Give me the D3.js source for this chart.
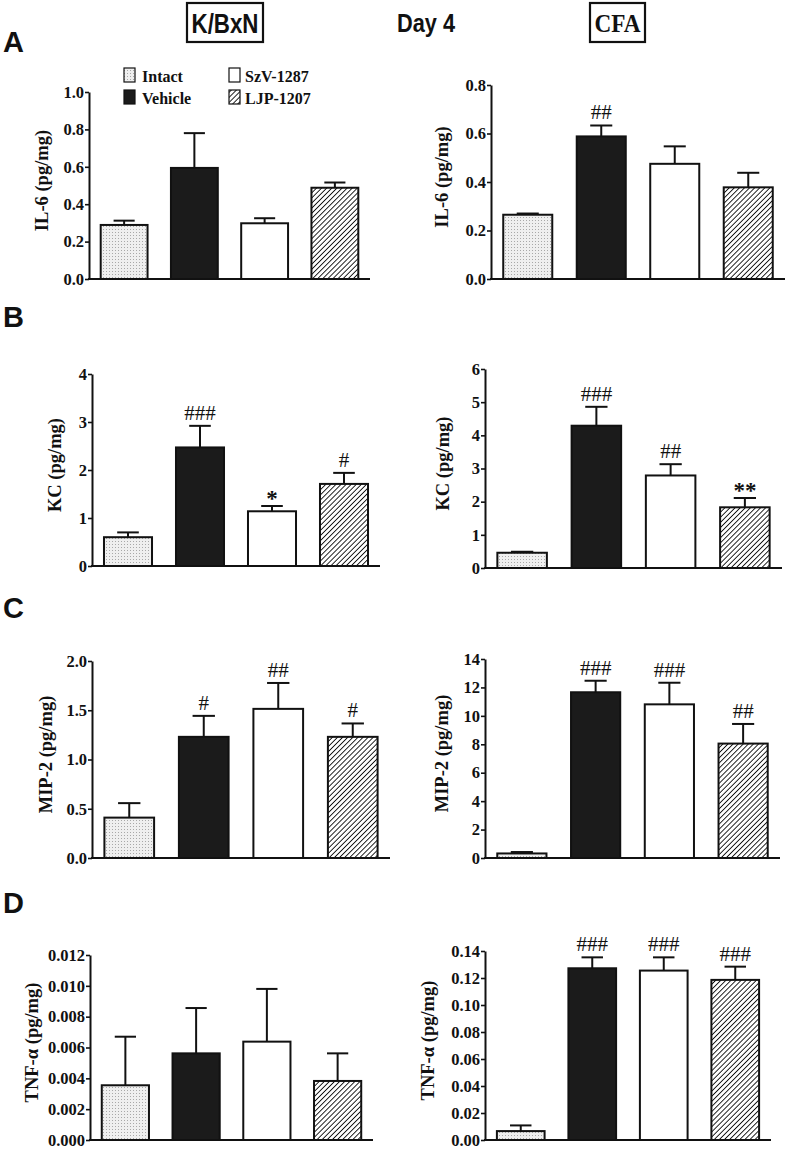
<!DOCTYPE html>
<html><head><meta charset="utf-8">
<script src="https://cdn.jsdelivr.net/npm/d3@7"></script>
<style>body{margin:0;background:#fff}</style></head>
<body><svg id="c" width="787" height="1150"></svg>
<script>
// ---------- DATA ----------
const groups = ["Intact", "Vehicle", "SzV-1287", "LJP-1207"];

const il6KbxnMean = [0.289, 0.594, 0.298, 0.488];
const il6KbxnSem  = [0.023, 0.186, 0.027, 0.028];
const il6KbxnMarks = ["", "", "", ""];
const il6KbxnTicks = [0, 0.2, 0.4, 0.6, 0.8, 1.0];

const il6CfaMean = [0.265, 0.588, 0.475, 0.378];
const il6CfaSem  = [0.005, 0.045, 0.072, 0.060];
const il6CfaMarks = ["", "##", "", ""];
const il6CfaTicks = [0, 0.2, 0.4, 0.6, 0.8];

const kcKbxnMean = [0.60, 2.47, 1.14, 1.71];
const kcKbxnSem  = [0.10, 0.45, 0.11, 0.23];
const kcKbxnMarks = ["", "###", "*", "#"];
const kcKbxnTicks = [0, 1, 2, 3, 4];

const kcCfaMean = [0.46, 4.29, 2.79, 1.83];
const kcCfaSem  = [0.03, 0.57, 0.34, 0.28];
const kcCfaMarks = ["", "###", "##", "**"];
const kcCfaTicks = [0, 1, 2, 3, 4, 5, 6];

const mip2KbxnMean = [0.41, 1.23, 1.514, 1.23];
const mip2KbxnSem  = [0.147, 0.213, 0.263, 0.136];
const mip2KbxnMarks = ["", "#", "##", "#"];
const mip2KbxnTicks = [0, 0.5, 1.0, 1.5, 2.0];

const mip2CfaMean = [0.32, 11.66, 10.81, 8.05];
const mip2CfaSem  = [0.10, 0.81, 1.52, 1.38];
const mip2CfaMarks = ["", "###", "###", "##"];
const mip2CfaTicks = [0, 2, 4, 6, 8, 10, 12, 14];

const tnfKbxnMean = [0.00355, 0.00562, 0.00638, 0.00383];
const tnfKbxnSem  = [0.00315, 0.00294, 0.00342, 0.00179];
const tnfKbxnMarks = ["", "", "", ""];
const tnfKbxnTicks = [0, 0.002, 0.004, 0.006, 0.008, 0.010, 0.012];

const tnfCfaMean = [0.0066, 0.1272, 0.1255, 0.1186];
const tnfCfaSem  = [0.0042, 0.0081, 0.0098, 0.0098];
const tnfCfaMarks = ["", "###", "###", "###"];
const tnfCfaTicks = [0, 0.02, 0.04, 0.06, 0.08, 0.10, 0.12, 0.14];

const panelLetters = ["A", "B", "C", "D"];
const headerLeft = "K/BxN", headerMid = "Day 4", headerRight = "CFA";

// ---------- LAYOUT ----------
const panels = [
  {mean: il6KbxnMean, sem: il6KbxnSem, marks: il6KbxnMarks, ticks: il6KbxnTicks, fmt: ".1f", label: "IL-6 (pg/mg)", x0: 89, x1: 370, yTop: 92, yBase: 279, off: 41},
  {mean: il6CfaMean, sem: il6CfaSem, marks: il6CfaMarks, ticks: il6CfaTicks, fmt: ".1f", label: "IL-6 (pg/mg)", x0: 491, x1: 785, yTop: 85, yBase: 279, off: 43},
  {mean: kcKbxnMean, sem: kcKbxnSem, marks: kcKbxnMarks, ticks: kcKbxnTicks, fmt: "d", label: "KC (pg/mg)", x0: 92, x1: 380, yTop: 374, yBase: 566, off: 31},
  {mean: kcCfaMean, sem: kcCfaSem, marks: kcCfaMarks, ticks: kcCfaTicks, fmt: "d", label: "KC (pg/mg)", x0: 485, x1: 782, yTop: 369, yBase: 568, off: 36},
  {mean: mip2KbxnMean, sem: mip2KbxnSem, marks: mip2KbxnMarks, ticks: mip2KbxnTicks, fmt: ".1f", label: "MIP-2 (pg/mg)", x0: 92, x1: 390, yTop: 661, yBase: 858, off: 40},
  {mean: mip2CfaMean, sem: mip2CfaSem, marks: mip2CfaMarks, ticks: mip2CfaTicks, fmt: "d", label: "MIP-2 (pg/mg)", x0: 485, x1: 780, yTop: 659, yBase: 858, off: 37},
  {mean: tnfKbxnMean, sem: tnfKbxnSem, marks: tnfKbxnMarks, ticks: tnfKbxnTicks, fmt: ".3f", label: "TNF-α (pg/mg)", x0: 90, x1: 373, yTop: 955, yBase: 1140, off: 52},
  {mean: tnfCfaMean, sem: tnfCfaSem, marks: tnfCfaMarks, ticks: tnfCfaTicks, fmt: ".2f", label: "TNF-α (pg/mg)", x0: 485, x1: 771, yTop: 951, yBase: 1140, off: 51}
];
const letterY = [52, 327, 618, 913];

const svg = d3.select("#c");
const defs = svg.append("defs");
// stipple
const st = defs.append("pattern").attr("id", "stip").attr("patternUnits", "userSpaceOnUse").attr("width", 3).attr("height", 3);
st.append("rect").attr("width", 3).attr("height", 3).attr("fill", "#efefef");
st.append("rect").attr("x", 1).attr("y", 1).attr("width", 1).attr("height", 1).attr("fill", "#a8a8a8");
// hatch
const ht = defs.append("pattern").attr("id", "hatch").attr("patternUnits", "userSpaceOnUse").attr("width", 3.6).attr("height", 3.6).attr("patternTransform", "rotate(45)");
ht.append("rect").attr("width", 3.6).attr("height", 3.6).attr("fill", "#fff");
ht.append("line").attr("x1", 0).attr("y1", 0).attr("x2", 0).attr("y2", 3.6).attr("stroke", "#000").attr("stroke-width", 1.7);

const fills = ["url(#stip)", "#1b1b1b", "#ffffff", "url(#hatch)"];
const SERIF = "'Liberation Serif','Times New Roman',serif";
const SANS = "'Liberation Sans',Arial,sans-serif";

// header
svg.append("rect").attr("x", 187).attr("y", 3).attr("width", 76).attr("height", 39).attr("fill", "none").attr("stroke", "#111").attr("stroke-width", 2.2);
svg.append("text").attr("x", 225).attr("y", 33).attr("text-anchor", "middle").attr("font-family", SANS).attr("font-weight", "bold").attr("font-size", 27)
  .attr("textLength", 67).attr("lengthAdjust", "spacingAndGlyphs").attr("fill", "#111").text(headerLeft);
svg.append("text").attr("x", 426).attr("y", 32).attr("text-anchor", "middle").attr("font-family", SANS).attr("font-weight", "bold").attr("font-size", 25)
  .attr("textLength", 58).attr("lengthAdjust", "spacingAndGlyphs").attr("fill", "#111").text(headerMid);
svg.append("rect").attr("x", 590).attr("y", 3).attr("width", 55).attr("height", 39).attr("fill", "none").attr("stroke", "#111").attr("stroke-width", 2.2);
svg.append("text").attr("x", 617.5).attr("y", 32).attr("text-anchor", "middle").attr("font-family", SERIF).attr("font-weight", "bold").attr("font-size", 25)
  .attr("textLength", 46).attr("lengthAdjust", "spacingAndGlyphs").attr("fill", "#111").text(headerRight);

// panel letters
panelLetters.forEach((L, i) => {
  svg.append("text").attr("x", 3).attr("y", letterY[i]).attr("font-family", SANS).attr("font-weight", "bold").attr("font-size", 29).attr("fill", "#111").text(L);
});

// legend
const legPos = [[124, 68, 142, 82], [124, 90, 142, 104], [229, 68, 245, 82], [229, 90, 245, 104]];
groups.forEach((g, i) => {
  const p = legPos[i];
  svg.append("rect").attr("x", p[0]).attr("y", p[1]).attr("width", 11).attr("height", 14).attr("fill", fills[i]).attr("stroke", "#111").attr("stroke-width", 1.2);
  svg.append("text").attr("x", p[2]).attr("y", p[3]).attr("font-family", SERIF).attr("font-weight", "bold").attr("font-size", 16).attr("fill", "#111").text(g);
});

// panels
panels.forEach(P => {
  const g = svg.append("g");
  const y = d3.scaleLinear().domain([0, P.ticks[P.ticks.length - 1]]).range([P.yBase, P.yTop]);
  const x = d3.scaleBand().domain(groups).range([P.x0, P.x1]).paddingInner(0.333).paddingOuter(0.1665);
  const bw = x.bandwidth();

  // bars
  g.selectAll("rect.bar").data(groups).join("rect").attr("class", "bar")
    .attr("x", d => x(d)).attr("width", bw)
    .attr("y", (d, i) => y(P.mean[i])).attr("height", (d, i) => P.yBase - y(P.mean[i]))
    .attr("fill", (d, i) => fills[i]).attr("stroke", "#111").attr("stroke-width", 2);

  // error bars (upper)
  const cap = bw * 0.45;
  groups.forEach((d, i) => {
    const cx = x(d) + bw / 2, top = y(P.mean[i] + P.sem[i]);
    g.append("line").attr("x1", cx).attr("x2", cx).attr("y1", y(P.mean[i])).attr("y2", top).attr("stroke", "#111").attr("stroke-width", 2);
    g.append("line").attr("x1", cx - cap / 2).attr("x2", cx + cap / 2).attr("y1", top).attr("y2", top).attr("stroke", "#111").attr("stroke-width", 2);
    if (P.marks[i]) {
      const isStar = P.marks[i].includes("*");
      g.append("text").attr("x", cx).attr("y", top - (isStar ? 0 : 6)).attr("text-anchor", "middle")
        .attr("font-family", SERIF).attr("font-weight", isStar ? "bold" : "normal")
        .attr("font-size", isStar ? 23 : 21).attr("fill", "#111").text(P.marks[i]);
    }
  });

  // y axis
  const ax = g.append("g").attr("transform", `translate(${P.x0},0)`)
    .call(d3.axisLeft(y).tickValues(P.ticks).tickFormat(d3.format(P.fmt)).tickSize(4).tickSizeOuter(0).tickPadding(1));
  ax.select(".domain").attr("stroke", "#111").attr("stroke-width", 2);
  ax.selectAll(".tick line").attr("stroke", "#111").attr("stroke-width", 1.6);
  ax.selectAll(".tick text").attr("font-family", SERIF).attr("font-weight", "bold").attr("font-size", 16.5).attr("fill", "#111");

  // x axis line
  g.append("line").attr("x1", P.x0 - 1).attr("x2", P.x1).attr("y1", P.yBase).attr("y2", P.yBase).attr("stroke", "#111").attr("stroke-width", 2);

  // y label
  const cy = (P.yTop + P.yBase) / 2 - 5;
  g.append("text").attr("transform", `translate(${P.x0 - P.off},${cy}) rotate(-90)`).attr("text-anchor", "middle")
    .attr("font-family", SERIF).attr("font-weight", "bold").attr("font-size", 18.5).attr("fill", "#111").text(P.label);
});
</script></body></html>
